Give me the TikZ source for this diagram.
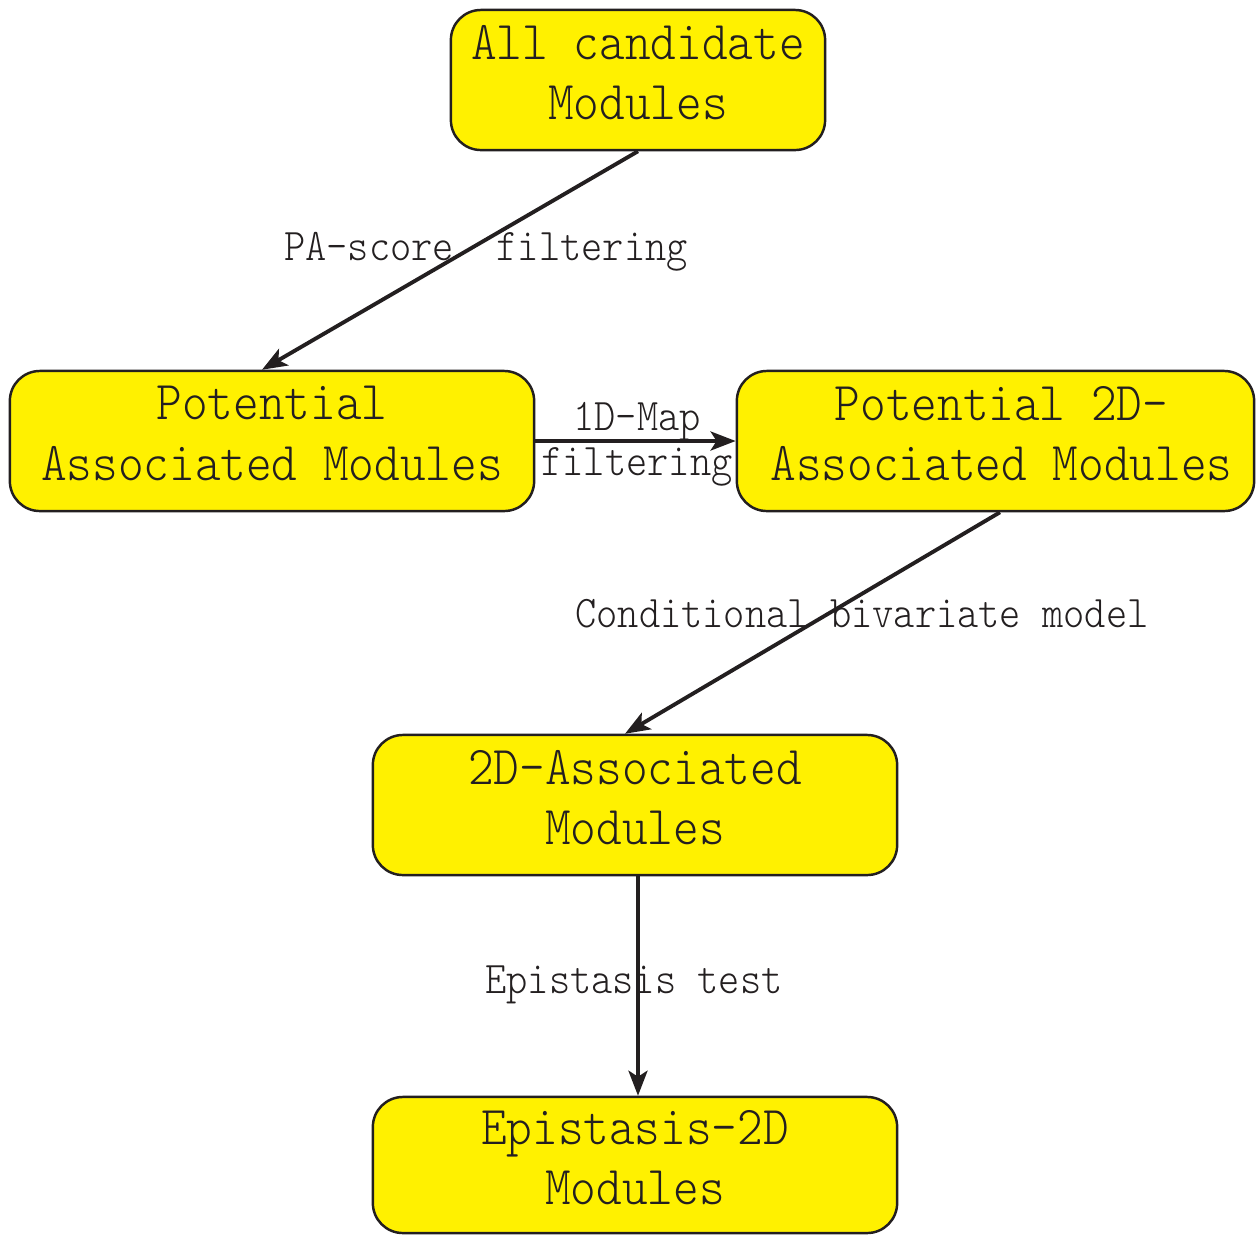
\documentclass[tikz,border=0pt]{standalone}
\usepackage{tikz}
\usepackage{graphicx}
\usetikzlibrary{arrows.meta}

\definecolor{boxyellow}{RGB}{255,241,0}
\definecolor{boxline}{RGB}{35,31,32}

%taller glyphs, and a last line pushed up a little
\newcommand{\tall}[1]{\scalebox{1}[1.12]{#1}}
\newcommand{\tallend}[1]{\scalebox{1}[1.12]{#1}\rule[-0.15cm]{0pt}{0pt}}

\tikzset{
	modbox/.style={draw=boxline, fill=boxyellow, line width=0.7pt, rounded corners=0.3cm, align=center, inner sep=0pt, text=boxline, font=\fontsize{13.9}{17.2}\selectfont\ttfamily\fontseries{l}\selectfont},
	steplabel/.style={inner sep=0pt, anchor=base, text=boxline, font=\fontsize{11.5}{14}\selectfont\ttfamily\fontseries{l}\selectfont},
	flow/.style={draw=boxline, line width=1.1pt, -{Stealth[length=0.25cm, width=0.19cm, inset=0.06cm]}}
}

\begin{document}
\begin{tikzpicture}[x=0.01cm, y=-0.01cm]
	\useasboundingbox (0,0) rectangle (1256,1235);

	%draw the module boxes
	\node[modbox, minimum width=3.74cm, minimum height=1.4cm] (all) at (638,80) {\tall{All candidate}\\\tallend{Modules}};
	\node[modbox, minimum width=5.24cm, minimum height=1.4cm] (pot) at (272,441) {\tall{Potential}\\\tallend{Associated Modules}};
	\node[modbox, minimum width=5.17cm, minimum height=1.4cm] (pottwo) at (995.5,441) {\hspace{0.12cm}\tall{Potential 2D-}\\\hspace{0.12cm}\tallend{Associated Modules}};
	\node[modbox, minimum width=5.24cm, minimum height=1.4cm] (twod) at (635,805) {\tall{2D-Associated}\\\tallend{Modules}};
	\node[modbox, minimum width=5.24cm, minimum height=1.36cm] (epi) at (635,1165) {\tall{Epistasis-2D}\\\tallend{Modules}};

	%label the filtering steps
	\node[steplabel] (pafilt) at (486,260) {\tall{PA-score\ \ filtering}};
	\node[steplabel] (mapfilt) at (637,430) {\tall{1D-Map}};
	\node[steplabel] (mapfilttwo) at (637,475) {\tall{filtering}};
	\node[steplabel] (condmod) at (862,627) {\tall{Conditional bivariate model}};
	\node[steplabel] (epitest) at (634,993) {\tall{Epistasis test}};

	%draw arrows between the boxes
	\draw[flow] (all.south) -- ([xshift=-0.1cm]pot.north);
	\draw[flow] (pot.east) -- (pottwo.west);
	\draw[flow] ([xshift=0.045cm]pottwo.south) -- ([xshift=-0.1cm]twod.north);
	\draw[flow] ([xshift=0.03cm]twod.south) -- ([xshift=0.03cm]epi.north);
\end{tikzpicture}
\end{document}
